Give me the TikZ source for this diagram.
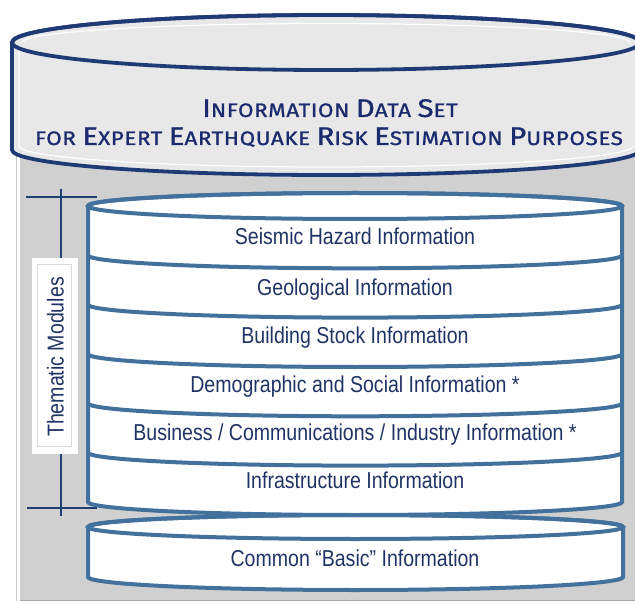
\documentclass[tikz,border=0pt]{standalone}
\usepackage{fontspec}
\setmainfont{Liberation Sans}
\newfontfamily\modfont{Liberation Sans}[FakeStretch=0.85]
\newfontfamily\ttlfont{Fira Sans}[FakeStretch=1.15, LetterSpace=3, FakeBold=1.2]
\newcommand{\BigC}[1]{{\fontsize{25.5}{26}\selectfont #1}}
\definecolor{titleblue}{HTML}{1B2B6E}
\definecolor{topline}{HTML}{1F3A75}
\definecolor{modline}{HTML}{41719C}
\definecolor{modtext}{HTML}{1F3464}
\definecolor{brk}{HTML}{1F4070}
\definecolor{bggray}{HTML}{D0D0D0}
\definecolor{topfill}{HTML}{E8E8E8}
\tikzset{
  topcyl/.style={draw=topline, line width=3.8pt, fill=topfill},
  modcyl/.style={draw=modline, line width=4pt, fill=white},
  modarc/.style={draw=modline, line width=4pt},
  ttl/.style={anchor=base, text=titleblue, font=\ttlfont\fontsize{19.5}{20}\selectfont, inner sep=0pt},
  modtxt/.style={anchor=base, text=modtext, font=\modfont\fontsize{23}{24}\selectfont, inner sep=0pt},
  brkline/.style={draw=brk, line width=2pt},
  labelbox/.style={fill=white, draw=white, minimum width=45pt, minimum height=195pt, inner sep=0pt},
}
\begin{document}
\begin{tikzpicture}[x=1pt,y=-1pt]
\useasboundingbox (0,0) rectangle (635,604);
\clip (0,0) rectangle (635,604);
% background panel
\fill[bggray] (20,120) rectangle (640,600);
\draw[draw=black!22, line width=0.8pt] (16.5,120) -- (16.5,601);
\draw[draw=black!35, line width=1.2pt] (20,600.5) -- (640,600.5);
% top cylinder
\path[topcyl] (12,42.5) -- (12,150) arc[start angle=180, end angle=360, x radius=314pt, y radius=25pt]
  -- (640,42.5) arc[start angle=0, end angle=180, x radius=314pt, y radius=27.5pt] -- cycle;
\draw[white, line width=1.2pt] (19,50) -- (19,146) arc[start angle=180, end angle=360, x radius=307pt, y radius=21pt];
\draw[white, line width=1.2pt] (22,42.5) arc[start angle=180, end angle=0, x radius=304pt, y radius=19pt];
\draw[topline, line width=3.8pt] (326,42.5) ellipse[x radius=314pt, y radius=27.5pt];
\node[ttl] (t1) at (330,117) {\BigC{I}NFORMATION \BigC{D}ATA \BigC{S}ET};
\node[ttl] (t2) at (329,145) {FOR \BigC{E}XPERT \BigC{E}ARTHQUAKE \BigC{R}ISK \BigC{E}STIMATION \BigC{P}URPOSES};
% bracket
\coordinate (bt) at (61,189);
\coordinate (bb) at (61,516);
\coordinate (tl) at (26,197);
\coordinate (tr) at (97,197);
\coordinate (bl) at (27,508);
\coordinate (br) at (97,508);
\draw[brkline] (bt) -- (bb);
\draw[brkline] (tl) -- (tr);
\draw[brkline] (bl) -- (br);
\node[labelbox] (tm) at (54.5,355.5) {};
\draw[draw=black!15, line width=0.8pt] ([shift={(6,7)}]tm.north west) rectangle ([shift={(-6,-7)}]tm.south east);
\node[modtxt, anchor=center, rotate=90] (tmt) at (55.5,357) {Thematic Modules};
% thematic modules cylinder
\path[modcyl] (88,206) -- (88,502) arc[start angle=180, end angle=360, x radius=267pt, y radius=13pt]
  -- (622,206) arc[start angle=0, end angle=180, x radius=267pt, y radius=13pt] -- cycle;
\draw[modarc] (355,206) ellipse[x radius=267pt, y radius=13pt];
\foreach \yy in {255.3,304.6,354,403.3,452.6}{
  \draw[modarc] (88,\yy) arc[start angle=180, end angle=360, x radius=267pt, y radius=13pt];
}
\node[modtxt] (m1) at (355,245) {Seismic Hazard Information};
\node[modtxt] (m2) at (355,295) {Geological Information};
\node[modtxt] (m3) at (355,343) {Building Stock Information};
\node[modtxt] (m4) at (355,392) {Demographic and Social Information *};
\node[modtxt] (m5) at (355,440) {Business / Communications / Industry Information *};
\node[modtxt] (m6) at (355,488) {Infrastructure Information};
% common basic cylinder
\path[modcyl] (88,527) -- (88,577) arc[start angle=180, end angle=360, x radius=267.5pt, y radius=13pt]
  -- (623,527) arc[start angle=0, end angle=180, x radius=267.5pt, y radius=12pt] -- cycle;
\draw[modarc] (355.5,527) ellipse[x radius=267.5pt, y radius=12pt];
\node[modtxt] (cb) at (355,566) {Common “Basic” Information};
\end{tikzpicture}
\end{document}
